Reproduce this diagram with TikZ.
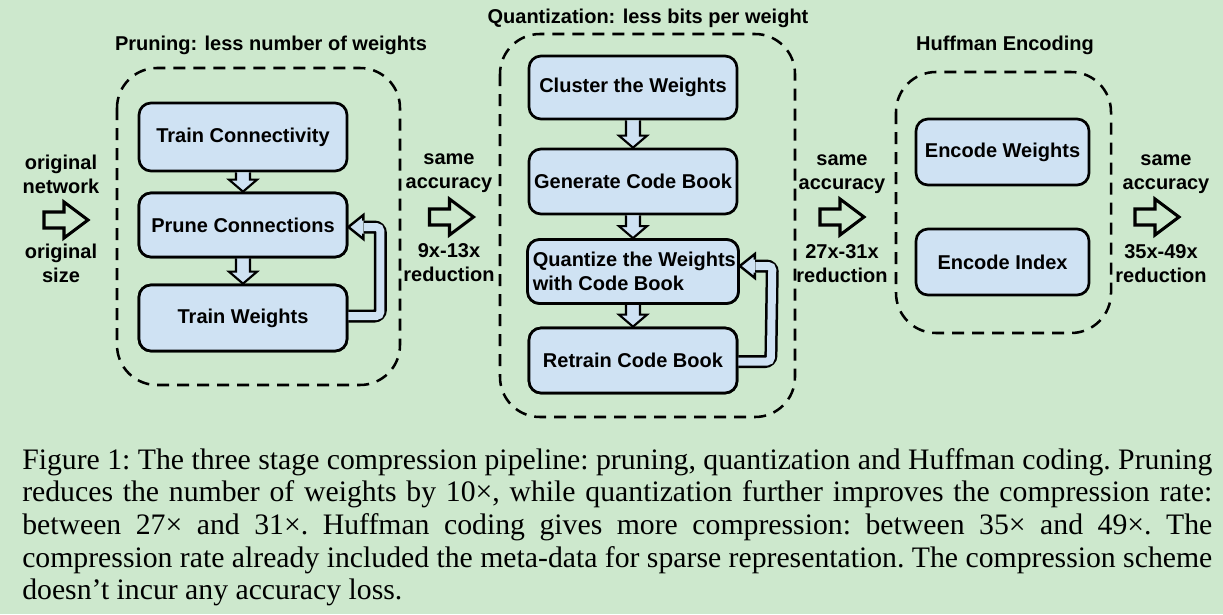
\documentclass[tikz,border=0pt]{standalone}
\usepackage{fontspec}
\setmainfont{Liberation Serif}
\setsansfont{Liberation Sans}
\usetikzlibrary{calc}
\definecolor{bg}{RGB}{205,232,205}
\definecolor{boxblue}{RGB}{207,226,243}
\tikzset{
  x=0.75pt, y=-0.75pt,
  lbl/.style={font=\sffamily\bfseries\fontsize{15}{18}\selectfont, align=center, inner sep=0pt},
  ttl/.style={font=\sffamily\bfseries\fontsize{15}{18}\selectfont, inner sep=0pt},
  stepbox/.style={draw, line width=2pt, rounded corners=9pt, fill=boxblue, minimum width=156pt,
     font=\sffamily\bfseries\fontsize{15}{17.5}\selectfont, inner sep=2pt},
  stage/.style={draw, dashed, dash pattern=on 9pt off 6pt, line width=1.9pt, rounded corners=30pt},
  darr/.style={draw, line width=1.6pt, fill=boxblue, line join=miter},
  bigarrow/.pic={\draw[line width=2.3pt, line join=miter] (-22,-8) -- (-2,-8) -- (-2,-18) -- (22,0) -- (-2,18) -- (-2,8) -- (-22,8) -- cycle;},
}
\newcommand\dnarrow[2]{\draw[darr] ($(#1.south)+(-7,0)$) -- ($(#2.north)+(-7,-12)$) -- ($(#2.north)+(-14,-12)$) -- (#2.north) -- ($(#2.north)+(14,-12)$) -- ($(#2.north)+(7,-12)$) -- ($(#1.south)+(7,0)$);}
% feedback: #1 source node (bottom), #2 target node, #3 x offset of vertical, #4 dy at source, #5 dy at target
\newcommand\fback[5]{%
  \draw[line width=9.75pt, rounded corners=4.5pt, line cap=butt] ($(#1.east)+(0,#4)$) -- ($(#1.east)+(#3,#4)$) -- ($(#2.east)+(#3,#5)$) -- ($(#2.east)+(15,#5)$);
  \draw[line width=6pt, rounded corners=3pt, line cap=butt, boxblue] ($(#1.east)+(-1,#4)$) -- ($(#1.east)+(#3,#4)$) -- ($(#2.east)+(#3,#5)$) -- ($(#2.east)+(15.5,#5)$);
  \fill[boxblue] ($(#2.east)+(15,#5-12)$) -- ($(#2.east)+(0,#5)$) -- ($(#2.east)+(15,#5+12)$) -- cycle;
  \draw[line width=1.8pt, line join=miter] ($(#2.east)+(15,#5-6.5)$) -- ($(#2.east)+(15,#5-12)$) -- ($(#2.east)+(0,#5)$) -- ($(#2.east)+(15,#5+12)$) -- ($(#2.east)+(15,#5+6.5)$);
}
\begin{document}
\begin{tikzpicture}
\fill[bg] (0,0) rectangle (1223,614);
\useasboundingbox (0,0) rectangle (1223,614);

% stage frames
\draw[stage] (117,68) rectangle (400,385);
\draw[stage] (500,34) rectangle (795,417);
\draw[stage] (896,72) rectangle (1111,333);

\node[ttl] (t1) at (271,45) {Pruning: less number of weights};
\node[ttl] (t2) at (648,18) {Quantization: less bits per weight};
\node[ttl] (t3) at (1005,45) {Huffman Encoding};

% pruning boxes
\node[stepbox, minimum height=51pt] (tc) at (243,137) {Train Connectivity};
\node[stepbox, minimum height=48pt] (pc) at (243,225) {Prune Connections};
\node[stepbox, minimum height=49.5pt] (tw) at (243,318) {Train Weights};
\dnarrow{tc}{pc}
\dnarrow{pc}{tw}
\fback{tw}{pc}{32}{-2}{2}
\node[stepbox, minimum height=48pt] at (pc) {Prune Connections};
\node[stepbox, minimum height=49.5pt] at (tw) {Train Weights};

% quantization boxes
\node[stepbox, minimum height=47.25pt] (cw) at (633,87.5) {Cluster the Weights};
\node[stepbox, minimum height=48.75pt] (gc) at (633,181.5) {Generate Code Book};
\node[stepbox, minimum height=48pt, align=left] (qw) at (633,271.5) {\hspace*{2pt}Quantize the Weights\\\hspace*{2pt}with Code Book};
\node[stepbox, minimum height=48.75pt] (rc) at (633,360.5) {Retrain Code Book};
\dnarrow{cw}{gc}
\dnarrow{gc}{qw}
\dnarrow{qw}{rc}
\fback{rc}{qw}{32.5}{1}{-5.5}
\node[stepbox, minimum height=48pt, align=left] at (qw) {\hspace*{2pt}Quantize the Weights\\\hspace*{2pt}with Code Book};
\node[stepbox, minimum height=48.75pt] at (rc) {Retrain Code Book};

% huffman boxes
\node[stepbox, minimum width=129.75pt, minimum height=49.5pt] (ew) at (1002.5,152) {Encode Weights};
\node[stepbox, minimum width=129.75pt, minimum height=49.5pt] (ei) at (1002.5,262) {Encode Index};

% side labels and arrows
\node[lbl] (l0a) at (61,174) {original\\network};
\pic at (66,220) {bigarrow};
\node[lbl] (l0b) at (61,263) {original\\size};

\node[lbl] (l1a) at (449,173) {same\\accuracy};
\pic at (451.5,217) {bigarrow};
\node[lbl] (l1b) at (449,263) {9x-13x\\reduction};

\node[lbl] (l2a) at (842,174) {same\\accuracy};
\pic at (842,217) {bigarrow};
\node[lbl] (l2b) at (842,264) {27x-31x\\reduction};

\node[lbl] (l3a) at (1166,174) {same\\accuracy};
\pic at (1157,217) {bigarrow};
\node[lbl] (l3b) at (1161,264) {35x-49x\\reduction};

% caption
\node[anchor=north west, inner sep=0pt, text width=892.5pt, align=justify,
      font=\fontsize{22.3}{24.5}\selectfont] (cap) at (22,448)
{\frenchspacing\hyphenpenalty=10000 Figure 1: The three stage compression pipeline: pruning, quantization and Huffman coding. Pruning\linebreak
reduces the number of weights by 10×, while quantization further improves the compression rate:\linebreak
between 27× and 31×. Huffman coding gives more compression: between 35× and 49×. The\linebreak
compression rate already included the meta-data for sparse representation. The compression scheme\linebreak
doesn’t incur any accuracy loss.};
\end{tikzpicture}
\end{document}
